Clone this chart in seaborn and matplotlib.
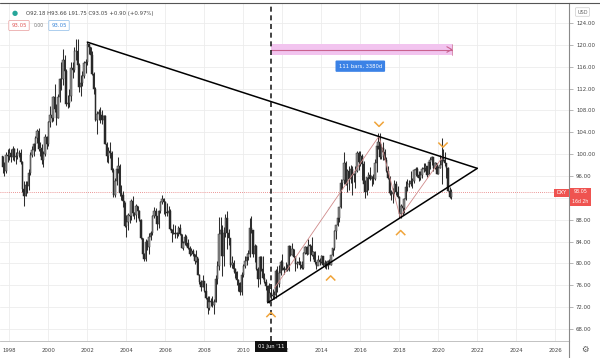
import numpy as np
import pandas as pd
import matplotlib
matplotlib.use("Agg")
import matplotlib.pyplot as plt
import seaborn as sns
from matplotlib.path import Path
from matplotlib.patches import Rectangle
from matplotlib.lines import Line2D

# ---------------- data (monthly DXY bars, Sep 1997 .. Sep 2020) ----------------
first_month = "1997-09"
first_open = 99.6
closes = [
    97.6, 97.0, 99.9, 99.6,                                                   # 1997
    100.3, 99.4, 100.9, 99.4, 99.7, 100.3, 100.2, 98.6, 93.7, 92.3, 94.3, 94.2,  # 1998
    96.5, 99.9, 100.8, 101.8, 102.9, 104.2, 100.9, 101.2, 98.9, 100.1, 103.2, 101.9,  # 1999
    105.9, 107.1, 106.7, 110.4, 108.2, 106.7, 110.4, 113.7, 113.7, 117.3, 115.3, 109.1,  # 2000
    109.3, 110.6, 115.8, 115.4, 118.8, 118.9, 116.3, 112.2, 113.0, 114.3, 116.6, 116.8,  # 2001
    120.2, 119.6, 118.2, 114.7, 111.9, 106.3, 107.4, 107.7, 107.1, 106.3, 106.9, 101.9,  # 2002
    99.6, 100.5, 100.3, 97.1, 92.6, 95.1, 97.2, 97.9, 92.9, 92.6, 91.4, 86.9,    # 2003
    87.6, 88.8, 88.6, 91.4, 89.2, 88.9, 90.5, 89.6, 88.0, 84.6, 81.8, 80.9,      # 2004
    83.9, 83.0, 84.9, 85.6, 88.6, 89.6, 88.7, 87.3, 89.6, 91.3, 91.7, 91.2,      # 2005
    89.5, 89.3, 89.6, 86.3, 85.5, 85.5, 85.3, 85.5, 86.5, 85.4, 82.9, 83.7,      # 2006
    84.8, 83.8, 82.9, 81.7, 82.3, 81.8, 80.4, 81.2, 77.8, 76.6, 75.6, 76.7,      # 2007
    74.9, 73.6, 71.8, 72.9, 73.1, 72.4, 73.0, 77.1, 79.5, 85.4, 86.2, 81.3,      # 2008
    85.6, 88.4, 85.5, 84.6, 79.7, 80.1, 78.9, 78.4, 76.9, 76.4, 74.8, 77.9,      # 2009
    79.5, 80.5, 81.1, 81.8, 86.5, 86.1, 81.7, 83.1, 78.9, 77.1, 81.2, 79.0,      # 2010
    77.3, 76.6, 75.9, 73.0, 74.6, 74.3, 74.1, 74.2, 78.6, 76.2, 78.3, 80.2,      # 2011
    79.1, 78.8, 79.0, 78.8, 83.2, 81.6, 82.7, 81.2, 79.9, 80.0, 80.2, 79.8,      # 2012
    79.2, 82.0, 83.0, 81.8, 83.3, 83.2, 81.5, 82.1, 80.2, 79.6, 80.7, 80.2,      # 2013
    81.3, 79.7, 80.1, 79.5, 80.4, 79.8, 81.5, 82.8, 86.0, 87.0, 88.4, 90.3,      # 2014
    94.8, 95.3, 98.4, 94.6, 96.9, 95.5, 97.3, 96.1, 96.4, 97.0, 100.2, 98.6,     # 2015
    99.6, 98.2, 94.6, 93.1, 95.9, 96.1, 95.5, 96.0, 95.4, 98.4, 101.5, 102.2,    # 2016
    99.5, 101.1, 100.4, 99.0, 97.0, 95.6, 92.9, 92.7, 93.1, 94.5, 93.0, 92.1,    # 2017
    89.1, 90.6, 90.1, 91.8, 94.0, 94.5, 94.5, 95.1, 95.1, 97.1, 97.3, 96.2,      # 2018
    95.6, 96.2, 97.3, 97.5, 97.8, 96.1, 98.5, 98.9, 99.4, 97.4, 98.3, 96.4,      # 2019
    97.4, 98.1, 99.0, 99.0, 98.3, 97.4, 93.3, 92.18, 93.05,                      # 2020
]
highs = [
    99.6, 98.6, 100.4, 101.0,
    101.2, 100.9, 101.5, 101.2, 100.4, 101.2, 100.7, 101.0, 98.7, 95.0, 95.1, 95.0,
    97.2, 100.4, 101.5, 102.1, 103.4, 104.6, 104.7, 102.2, 101.8, 100.6, 103.6, 103.3,
    106.1, 108.8, 108.2, 110.7, 112.8, 109.2, 111.0, 113.9, 116.9, 119.2, 118.1, 115.6,
    110.9, 111.9, 116.9, 116.8, 119.6, 121.0, 121.0, 116.6, 114.5, 115.3, 117.1, 117.5,
    120.5, 120.2, 119.6, 118.9, 115.0, 112.2, 107.9, 108.2, 108.6, 108.1, 107.1, 107.1,
    102.2, 101.3, 102.2, 100.5, 97.4, 95.7, 97.9, 99.4, 98.2, 94.4, 93.3, 91.2,
    88.8, 89.3, 89.8, 91.8, 92.3, 89.5, 90.8, 90.5, 89.8, 88.1, 84.7, 82.0,
    84.4, 84.3, 85.5, 85.9, 88.8, 90.3, 90.2, 88.6, 89.8, 91.5, 92.6, 92.0,
    91.4, 91.0, 90.5, 89.9, 86.3, 87.3, 87.1, 85.7, 86.9, 87.3, 85.4, 84.1,
    85.4, 85.2, 84.5, 83.1, 82.9, 82.7, 81.8, 82.5, 81.0, 78.1, 76.9, 77.9,
    76.8, 76.4, 74.0, 74.0, 73.6, 74.0, 73.4, 77.9, 80.4, 88.5, 88.5, 87.0,
    86.7, 89.1, 89.6, 86.3, 84.4, 81.3, 80.6, 79.2, 78.7, 77.2, 76.6, 78.5,
    79.9, 81.3, 82.0, 82.5, 88.4, 88.7, 86.2, 83.5, 83.3, 79.3, 81.4, 81.4,
    81.4, 78.2, 77.2, 76.1, 76.4, 76.2, 75.4, 75.0, 79.0, 79.5, 79.8, 80.7,
    81.8, 79.6, 80.2, 79.9, 83.3, 83.0, 83.7, 82.6, 81.3, 80.4, 81.2, 80.5,
    80.4, 82.1, 83.2, 83.2, 84.5, 83.5, 84.8, 82.3, 82.2, 80.3, 81.5, 81.0,
    81.5, 81.3, 80.7, 80.5, 80.6, 80.8, 81.6, 82.9, 86.1, 86.9, 88.6, 90.3,
    95.5, 95.3, 100.4, 98.7, 97.3, 97.8, 98.0, 97.9, 96.6, 97.9, 100.5, 100.6,
    100.5, 100.0, 98.8, 95.2, 95.9, 96.7, 97.6, 96.0, 96.3, 99.1, 101.8, 103.8,
    103.8, 101.8, 102.3, 101.0, 99.4, 97.8, 96.0, 93.5, 93.8, 95.2, 95.0, 94.2,
    92.3, 90.9, 90.7, 91.9, 95.0, 95.5, 95.2, 96.9, 95.7, 97.2, 97.7, 97.7,
    96.9, 96.9, 97.7, 98.3, 98.4, 97.8, 98.7, 99.4, 99.7, 99.3, 98.5, 98.3,
    97.9, 99.9, 103.0, 100.9, 100.4, 97.8, 97.6, 93.9, 93.66,
]
lows = [
    96.6, 96.0, 96.6, 98.6,
    99.0, 98.6, 98.9, 98.8, 98.2, 99.2, 99.4, 98.2, 93.0, 90.6, 92.4, 92.9,
    93.5, 96.2, 99.4, 99.7, 100.6, 102.0, 100.5, 99.6, 98.2, 97.6, 99.7, 101.0,
    101.5, 104.9, 105.8, 106.0, 107.7, 105.4, 106.6, 109.6, 111.8, 112.7, 114.4, 108.9,
    108.4, 108.6, 109.8, 113.9, 115.1, 117.3, 115.8, 111.4, 110.7, 112.4, 113.9, 114.9,
    116.4, 118.4, 117.5, 114.5, 111.0, 106.0, 103.7, 106.2, 105.7, 105.6, 105.1, 101.9,
    98.6, 98.4, 99.3, 96.8, 92.2, 92.1, 94.4, 96.6, 92.3, 91.6, 90.3, 86.6,
    84.8, 86.2, 87.4, 87.9, 88.7, 88.1, 87.6, 88.3, 87.8, 84.4, 81.6, 80.4,
    80.5, 82.5, 81.8, 84.3, 85.2, 88.3, 88.2, 86.2, 86.4, 89.2, 90.9, 89.1,
    88.7, 88.6, 88.9, 86.1, 83.9, 85.3, 84.7, 84.6, 85.0, 85.2, 82.8, 82.5,
    83.4, 83.2, 82.6, 81.4, 81.5, 81.4, 79.9, 80.2, 77.8, 76.2, 74.9, 75.6,
    74.7, 73.4, 70.7, 71.5, 72.2, 72.1, 70.7, 73.0, 76.2, 78.8, 85.1, 77.7,
    79.6, 84.8, 82.6, 83.3, 79.4, 79.1, 78.3, 77.3, 76.1, 74.9, 74.2, 74.3,
    77.5, 79.2, 79.7, 80.6, 81.2, 85.6, 81.2, 80.3, 78.8, 75.6, 76.2, 78.7,
    77.1, 76.4, 75.2, 72.9, 72.7, 73.5, 73.4, 73.5, 73.7, 74.7, 75.7, 77.8,
    78.8, 78.1, 78.6, 78.6, 78.6, 81.4, 81.6, 81.0, 78.6, 79.1, 79.9, 79.0,
    78.9, 78.9, 81.7, 81.6, 81.8, 80.5, 81.4, 80.9, 79.9, 78.9, 80.4, 79.8,
    80.0, 79.6, 79.2, 78.9, 78.9, 80.0, 79.8, 81.3, 82.5, 84.5, 86.8, 87.6,
    90.2, 93.6, 94.6, 94.4, 93.1, 93.5, 94.8, 92.6, 94.9, 93.8, 96.8, 97.1,
    97.9, 95.3, 94.6, 91.9, 92.6, 93.4, 95.3, 94.1, 94.6, 95.2, 96.8, 100.9,
    99.2, 99.2, 99.0, 98.8, 96.8, 95.5, 92.5, 91.6, 91.0, 92.7, 92.5, 91.9,
    88.4, 88.3, 88.9, 89.2, 91.6, 93.2, 94.0, 94.2, 93.8, 94.8, 96.0, 95.9,
    95.0, 95.2, 95.7, 96.7, 97.0, 95.8, 96.4, 97.2, 98.0, 96.9, 97.3, 96.3,
    96.4, 97.4, 94.6, 98.8, 97.9, 95.7, 93.2, 92.0, 91.75,
]

# drawings
upper_line_x = [2002.0, 2022.0]
upper_line_y = [120.5, 97.4]
lower_line_x = [2011.25, 2022.0]
lower_line_y = [72.8, 97.4]
zigzag_x = [2011.6, 2016.96, 2018.04, 2020.24]
zigzag_y = [75.5, 103.3, 88.5, 99.6]
up_marks_x = [2011.42, 2014.48, 2018.07]
up_marks_y = [70.6, 77.3, 85.6]
down_marks_x = [2016.96, 2020.24]
down_marks_y = [105.5, 101.7]
range_x = [2011.42, 2020.69]
range_y = [118.14, 120.16]
range_label = "111 bars, 3380d"
range_label_pos = (2016.0, 116.1)
vline_date = 2011.42
vline_label = "01 Jun '11"
last_price = 93.05
price_ticks = list(range(68, 125, 4))
hidden_price_ticks = [92]          # covered by the last-price label
year_ticks = list(range(1998, 2027, 2))
header = "O92.18 H93.66 L91.75 C93.05 +0.90 (+0.97%)"

# ---------------- build frame ----------------
dates = pd.date_range(first_month, periods=len(closes), freq="MS")
df = pd.DataFrame({"date": dates, "close": closes, "high": highs, "low": lows})
df["open"] = [first_open] + closes[:-1]
df["x"] = df["date"].dt.year + (df["date"].dt.month - 1) / 12.0
df["dir"] = np.where(df["close"] >= df["open"], "up", "down")

sns.set_theme(style="white")
plt.rcParams["font.family"] = ["DejaVu Sans"]

W, H = 600, 358
fig = plt.figure(figsize=(W / 100, H / 100), dpi=100)
fig.patch.set_facecolor("white")

ax_top_px, ax_bot_px, ax_right_px = 3, 341, 569
ax = fig.add_axes([0, 1 - ax_bot_px / H, ax_right_px / W, (ax_bot_px - ax_top_px) / H])

ppu = 306 / 56.0
ax.set_ylim(124 - (ax_bot_px - 23) / ppu, 124 + (23 - ax_top_px) / ppu)
ppy = 19.5
x0 = 1998 - 9.3 / ppy
ax.set_xlim(x0, x0 + ax_right_px / ppy)

ax.grid(True, color="#ececec", lw=0.6)
ax.set_axisbelow(True)

# candles
face = {"up": "#8e8e8e", "down": "#262626"}
for d, g in df.groupby("dir"):
    ax.vlines(g["x"], g["low"], g["high"], color="#2e2e2e", lw=0.75, zorder=2)
    ax.bar(g["x"], (g["close"] - g["open"]).abs().clip(lower=0.1),
           bottom=np.minimum(g["open"], g["close"]), width=0.07,
           color=face[d], edgecolor="#2e2e2e", lw=0.35, zorder=2.1)

# last price dotted line
ax.axhline(last_price, color="#e57373", lw=0.6, ls=(0, (1, 1.5)), zorder=1.5)

# range measure
ax.add_patch(Rectangle((range_x[0], range_y[0]), range_x[1] - range_x[0], range_y[1] - range_y[0],
                       facecolor="#f2c4ef", edgecolor="none", zorder=3))
mid = (range_y[0] + range_y[1]) / 2
ax.plot(range_x, [mid, mid], color="#c9628f", lw=0.8, zorder=4)
ax.plot([range_x[1] - 0.25, range_x[1], range_x[1] - 0.25], [mid + 0.5, mid, mid - 0.5],
        color="#c9628f", lw=0.8, zorder=4)
ax.plot([range_x[1], range_x[1]], [range_y[0], range_y[1]], color="#c9628f", lw=0.5, zorder=4)
ax.text(range_label_pos[0], range_label_pos[1], range_label, ha="center", va="center",
        fontsize=3.8, color="white", zorder=6,
        bbox=dict(boxstyle="round,pad=0.6,rounding_size=0.2", fc="#3b82e6", ec="none"))

# zigzag & triangle
sns.lineplot(x=zigzag_x, y=zigzag_y, ax=ax, color="#cf8a8a", lw=0.6, sort=False, zorder=3)
sns.lineplot(x=upper_line_x, y=upper_line_y, ax=ax, color="black", lw=1.1, zorder=4)
sns.lineplot(x=lower_line_x, y=lower_line_y, ax=ax, color="black", lw=1.1, zorder=4)

# vertical dashed line
ax.axvline(vline_date, color="#222222", lw=1.2, ls=(0, (3, 2.2)), zorder=4)

# chevrons
up_chev = Path([(-1, -0.5), (0, 0.5), (1, -0.5)], [Path.MOVETO, Path.LINETO, Path.LINETO])
dn_chev = Path([(-1, 0.5), (0, -0.5), (1, 0.5)], [Path.MOVETO, Path.LINETO, Path.LINETO])
sns.scatterplot(x=up_marks_x, y=up_marks_y, ax=ax, marker=up_chev, s=45,
                facecolors="none", edgecolor="#f0a43a", linewidth=1.1, zorder=5)
sns.scatterplot(x=down_marks_x, y=down_marks_y, ax=ax, marker=dn_chev, s=45,
                facecolors="none", edgecolor="#f0a43a", linewidth=1.1, zorder=5)

# axes styling
for s in ["top", "left"]:
    ax.spines[s].set_visible(False)
ax.spines["right"].set_color("#8a8a8a")
ax.spines["right"].set_linewidth(0.8)
ax.spines["bottom"].set_color("#b8b8b8")
ax.spines["bottom"].set_linewidth(0.6)
ax.yaxis.tick_right()
ax.set_yticks(price_ticks)
ax.set_yticklabels(["" if v in hidden_price_ticks else f"{v:.2f}" for v in price_ticks])
ax.tick_params(axis="y", which="both", right=True, left=False, length=3, width=0.5,
               color="#9a9a9a", labelsize=3.9, labelcolor="#444444", pad=2)
ax.set_xticks(year_ticks)
ax.set_xticklabels([str(y) for y in year_ticks])
ax.tick_params(axis="x", length=0, labelsize=3.9, labelcolor="#444444", pad=5)
ax.set_xlabel("")
ax.set_ylabel("")

# date label on time axis
ax.text(vline_date, ax.get_ylim()[0] - 0.6, vline_label, ha="center",
        va="top", fontsize=3.8, color="white", zorder=10, clip_on=False,
        bbox=dict(boxstyle="square,pad=0.55", fc="#111111", ec="none"))

# last price label on price axis
def fx(px):
    return px / W
def fy(py):
    return 1 - py / H

fig.patches.append(Rectangle((fx(554), fy(196.5)), fx(569) - fx(554), fy(188.5) - fy(196.5),
                             transform=fig.transFigure, fc="#ef5350", ec="none"))
fig.patches.append(Rectangle((fx(570), fy(205.5)), fx(591) - fx(570), fy(187.5) - fy(205.5),
                             transform=fig.transFigure, fc="#ef5350", ec="none"))
fig.text(fx(561.5), fy(192.5), "DXY", fontsize=3.6, color="white", ha="center", va="center")
fig.text(fx(580.5), fy(191.5), "93.05", fontsize=3.5, color="white", ha="center", va="center")
fig.text(fx(580.5), fy(201.5), "16d 2h", fontsize=3.3, color="white", ha="center", va="center")

# extra frame lines
fig.add_artist(Line2D([fx(569), fx(569)], [fy(341), 0], color="#8a8a8a", lw=0.8))
fig.add_artist(Line2D([0, 1], [fy(3), fy(3)], color="#555555", lw=0.8))

# header
fig.text(fx(15), fy(13), "\u25cf", fontsize=5, color="#26a69a", ha="center", va="center")
fig.text(fx(26), fy(13), header, fontsize=3.9, color="#444444", ha="left", va="center")
fig.text(fx(19), fy(25.5), "93.05", fontsize=3.9, color="#e05a5a", ha="center", va="center",
         bbox=dict(boxstyle="round,pad=0.45,rounding_size=0.15", fc="white", ec="#e89a9a", lw=0.5))
fig.text(fx(38.5), fy(25.5), "0.00", fontsize=3.3, color="#777777", ha="center", va="center")
fig.text(fx(59), fy(25.5), "93.05", fontsize=3.9, color="#3a86d8", ha="center", va="center",
         bbox=dict(boxstyle="round,pad=0.45,rounding_size=0.15", fc="white", ec="#8cbbe8", lw=0.5))
fig.text(fx(582.5), fy(12), "USD", fontsize=3.6, color="#666666", ha="center", va="center",
         bbox=dict(boxstyle="round,pad=0.35,rounding_size=0.15", fc="white", ec="#cccccc", lw=0.5))
# gear icon
fig.text(fx(585), fy(349), "\u2699", fontsize=6, color="#555555", ha="center", va="center")

fig.savefig("out.png", dpi=100, facecolor="white")
